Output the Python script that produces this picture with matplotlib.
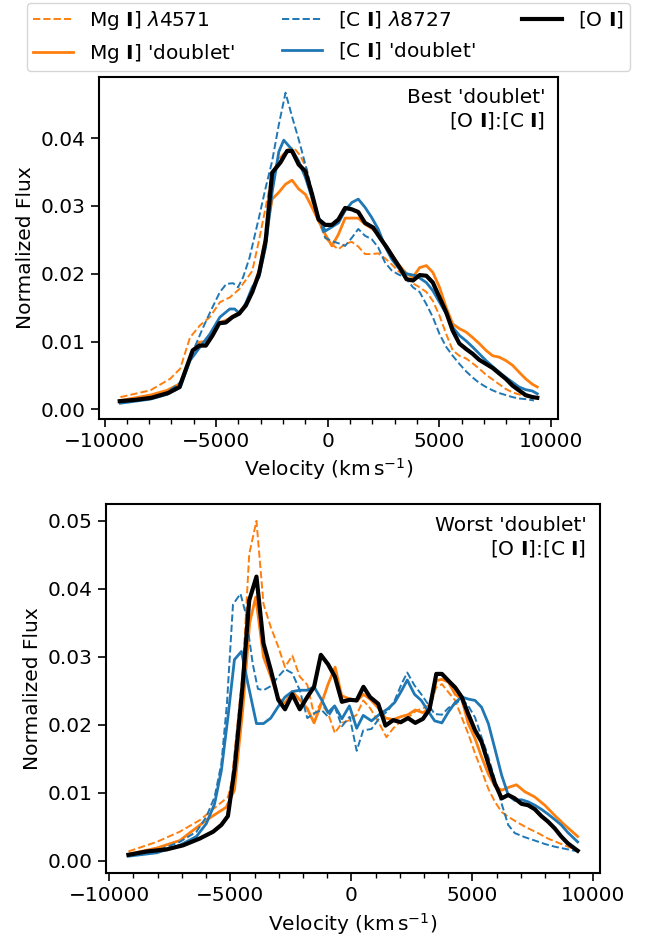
import numpy as np
import matplotlib
matplotlib.use("Agg")
import matplotlib.pyplot as plt
from matplotlib.ticker import MultipleLocator

# (velocity km/s, normalized flux)

# top panel: best 'doublet'
top_mg_4571 = [(-9290, 0.0018), (-7950, 0.0028), (-7060, 0.0045), (-6610, 0.0060), (-6170, 0.0106),
               (-5720, 0.0124), (-5280, 0.0136), (-4830, 0.0158), (-4390, 0.0165), (-3970, 0.0177),
               (-3380, 0.0204), (-3080, 0.0249), (-2780, 0.0298), (-2490, 0.0347), (-2190, 0.0369),
               (-1820, 0.0383), (-1520, 0.0386), (-1230, 0.0374), (-930, 0.0354), (-705, 0.0307),
               (-410, 0.0278), (-110, 0.0253), (190, 0.0243), (480, 0.0236), (780, 0.0244),
               (1080, 0.0247), (1370, 0.0240), (1670, 0.0229), (1970, 0.0229), (2260, 0.0230),
               (2560, 0.0223), (2860, 0.0214), (3160, 0.0204), (3530, 0.0195), (3750, 0.0187),
               (4120, 0.0180), (4420, 0.0173), (4710, 0.0160), (5010, 0.0138), (5310, 0.0111),
               (5600, 0.0087), (5900, 0.0079), (6200, 0.0075), (6490, 0.0068), (6790, 0.0060),
               (7090, 0.0051), (7390, 0.0044), (7680, 0.0037), (7980, 0.0030), (8280, 0.0025),
               (8570, 0.0022), (8870, 0.0019), (9320, 0.0017)]
top_mg_dbl = [(-9290, 0.0013), (-7950, 0.0021), (-7200, 0.0028), (-6610, 0.0038), (-6050, 0.0085),
              (-5750, 0.0099), (-5460, 0.0100), (-5160, 0.0113), (-4860, 0.0128), (-4570, 0.0131),
              (-4270, 0.0137), (-3970, 0.0143), (-3670, 0.0155), (-3380, 0.0175), (-3080, 0.0205),
              (-2780, 0.0255), (-2490, 0.0310), (-2190, 0.0320), (-1890, 0.0332), (-1600, 0.0338),
              (-1300, 0.0325), (-1000, 0.0317), (-705, 0.0298), (-410, 0.0278), (-110, 0.0258),
              (190, 0.0241), (480, 0.0258), (780, 0.0282), (1080, 0.0282), (1370, 0.0282),
              (1670, 0.0273), (1970, 0.0267), (2260, 0.0258), (2560, 0.0244), (2860, 0.0229),
              (3160, 0.0214), (3530, 0.0200), (3820, 0.0195), (4120, 0.0209), (4420, 0.0212),
              (4710, 0.0202), (5010, 0.0180), (5310, 0.0150), (5600, 0.0126), (5900, 0.0119),
              (6200, 0.0114), (6490, 0.0106), (6790, 0.0097), (7090, 0.0087), (7390, 0.0079),
              (7680, 0.0077), (7980, 0.0072), (8280, 0.0065), (8570, 0.0055), (8870, 0.0045),
              (9170, 0.0037), (9390, 0.0033)]
top_ci_8727 = [(-9290, 0.0011), (-7950, 0.0017), (-7200, 0.0025), (-6600, 0.0040), (-6020, 0.0087),
               (-5580, 0.0121), (-5200, 0.0148), (-4830, 0.0173), (-4540, 0.0185), (-4240, 0.0186),
               (-4020, 0.0180), (-3790, 0.0195), (-3500, 0.0224), (-3080, 0.0283), (-2780, 0.0327),
               (-2490, 0.0366), (-2190, 0.0420), (-1890, 0.0467), (-1600, 0.0432), (-1300, 0.0398),
               (-1000, 0.0361), (-705, 0.0322), (-410, 0.0283), (-110, 0.0253), (190, 0.0248),
               (480, 0.0245), (780, 0.0241), (1080, 0.0253), (1370, 0.0266), (1670, 0.0256),
               (1970, 0.0251), (2260, 0.0239), (2560, 0.0217), (2860, 0.0205), (3160, 0.0199),
               (3450, 0.0195), (3820, 0.0180), (4120, 0.0173), (4420, 0.0155), (4710, 0.0136),
               (5010, 0.0111), (5310, 0.0092), (5600, 0.0079), (5900, 0.0067), (6200, 0.0056),
               (6490, 0.0047), (6790, 0.0039), (7090, 0.0033), (7390, 0.0028), (7680, 0.0024),
               (7980, 0.0021), (8280, 0.0018), (8570, 0.0016), (8870, 0.0015), (9240, 0.0013)]
top_ci_dbl = [(-9290, 0.0009), (-7950, 0.0015), (-7200, 0.0022), (-6610, 0.0032), (-6170, 0.0072),
              (-5720, 0.0092), (-5280, 0.0111), (-4830, 0.0136), (-4390, 0.0148), (-4170, 0.0148),
              (-3940, 0.0141), (-3650, 0.0158), (-3380, 0.0180), (-3080, 0.0195), (-2780, 0.0240),
              (-2490, 0.0320), (-2190, 0.0380), (-1970, 0.0397), (-1600, 0.0383), (-1300, 0.0366),
              (-1000, 0.0342), (-705, 0.0312), (-410, 0.0283), (-110, 0.0263), (190, 0.0269),
              (480, 0.0275), (780, 0.0293), (1080, 0.0305), (1370, 0.0310), (1670, 0.0298),
              (1970, 0.0283), (2260, 0.0266), (2560, 0.0241), (2860, 0.0222), (3160, 0.0209),
              (3530, 0.0200), (3970, 0.0197), (4420, 0.0187), (4710, 0.0175), (5010, 0.0158),
              (5310, 0.0141), (5600, 0.0121), (5900, 0.0109), (6200, 0.0101), (6490, 0.0092),
              (6790, 0.0082), (7090, 0.0072), (7390, 0.0063), (7680, 0.0055), (7980, 0.0047),
              (8280, 0.0040), (8570, 0.0033), (8870, 0.0029), (9170, 0.0027), (9390, 0.0023)]
top_oi = [(-9320, 0.0012), (-8600, 0.0014), (-7900, 0.0017), (-7160, 0.0024), (-6640, 0.0033),
          (-6050, 0.0087), (-5750, 0.0094), (-5460, 0.0094), (-5160, 0.0109), (-4860, 0.0127),
          (-4570, 0.0128), (-4270, 0.0136), (-3970, 0.0141), (-3670, 0.0153), (-3380, 0.0173),
          (-3080, 0.0200), (-2780, 0.0249), (-2490, 0.0349), (-2120, 0.0364), (-1820, 0.0381),
          (-1600, 0.0381), (-1300, 0.0361), (-1000, 0.0351), (-700, 0.0317), (-410, 0.0280),
          (-110, 0.0272), (190, 0.0272), (480, 0.0280), (780, 0.0297), (1080, 0.0295),
          (1370, 0.0291), (1670, 0.0275), (2040, 0.0268), (2340, 0.0253), (2640, 0.0239),
          (2930, 0.0224), (3230, 0.0209), (3530, 0.0192), (3820, 0.0190), (4120, 0.0198),
          (4420, 0.0197), (4710, 0.0187), (5010, 0.0165), (5310, 0.0143), (5600, 0.0116),
          (5900, 0.0097), (6200, 0.0089), (6490, 0.0082), (6790, 0.0073), (7090, 0.0067),
          (7390, 0.0061), (7680, 0.0053), (7980, 0.0045), (8280, 0.0035), (8570, 0.0028),
          (8870, 0.0021), (9170, 0.0018), (9390, 0.0017)]

# bottom panel: worst 'doublet'
bot_mg_4571 = [(-9210, 0.0014), (-8040, 0.0028), (-7090, 0.0043), (-6260, 0.0060), (-5580, 0.0080),
               (-5100, 0.0094), (-4950, 0.0115), (-4480, 0.0280), (-4220, 0.0451), (-3920, 0.0500),
               (-3630, 0.0378), (-3330, 0.0344), (-3020, 0.0315), (-2740, 0.0285), (-2440, 0.0302),
               (-2130, 0.0271), (-1820, 0.0259), (-1540, 0.0215), (-1260, 0.0232), (-960, 0.0217),
               (-680, 0.0188), (-390, 0.0203), (-70, 0.0207), (220, 0.0215), (490, 0.0236),
               (770, 0.0225), (1110, 0.0205), (1450, 0.0182), (1730, 0.0195), (2070, 0.0206),
               (2380, 0.0212), (2680, 0.0221), (3000, 0.0225), (3300, 0.0231), (3500, 0.0255),
               (3740, 0.0260), (4010, 0.0248), (4290, 0.0236), (4560, 0.0211), (4830, 0.0187),
               (5110, 0.0158), (5380, 0.0133), (5660, 0.0106), (5930, 0.0087), (6210, 0.0072),
               (6480, 0.0065), (6890, 0.0056), (7300, 0.0048), (7710, 0.0041), (8120, 0.0033),
               (8530, 0.0027), (8940, 0.0021), (9350, 0.0016)]
bot_mg_dbl = [(-9210, 0.0010), (-8040, 0.0019), (-7090, 0.0030), (-5990, 0.0060), (-5170, 0.0079),
              (-4830, 0.0104), (-4480, 0.0225), (-4200, 0.0350), (-3950, 0.0388), (-3630, 0.0300),
              (-3330, 0.0271), (-3020, 0.0239), (-2740, 0.0232), (-2440, 0.0249), (-2130, 0.0237),
              (-1820, 0.0224), (-1540, 0.0203), (-1230, 0.0232), (-960, 0.0260), (-670, 0.0285),
              (-400, 0.0243), (-60, 0.0238), (220, 0.0235), (500, 0.0245), (770, 0.0238),
              (1110, 0.0225), (1410, 0.0210), (1730, 0.0208), (2040, 0.0212), (2340, 0.0215),
              (2640, 0.0222), (2960, 0.0218), (3230, 0.0225), (3510, 0.0265), (3740, 0.0267),
              (4010, 0.0263), (4290, 0.0245), (4560, 0.0238), (4830, 0.0202), (5110, 0.0180),
              (5380, 0.0153), (5660, 0.0128), (5930, 0.0110), (6210, 0.0104), (6480, 0.0108),
              (6820, 0.0112), (7160, 0.0102), (7580, 0.0094), (7990, 0.0082), (8400, 0.0067),
              (8810, 0.0053), (9350, 0.0036)]
bot_ci_8727 = [(-9210, 0.0010), (-8040, 0.0015), (-7090, 0.0028), (-6400, 0.0043), (-5990, 0.0065),
               (-5650, 0.0094), (-5370, 0.0143), (-5140, 0.0231), (-4890, 0.0377), (-4580, 0.0393),
               (-4360, 0.0363), (-4070, 0.0289), (-3860, 0.0253), (-3630, 0.0251), (-3330, 0.0257),
               (-3020, 0.0271), (-2740, 0.0282), (-2440, 0.0276), (-2130, 0.0251), (-1820, 0.0210),
               (-1540, 0.0217), (-1230, 0.0222), (-960, 0.0212), (-690, 0.0227), (-390, 0.0198),
               (-70, 0.0212), (220, 0.0162), (490, 0.0192), (830, 0.0194), (1180, 0.0211),
               (1520, 0.0221), (1790, 0.0236), (2070, 0.0260), (2310, 0.0277), (2610, 0.0258),
               (2890, 0.0245), (3160, 0.0231), (3440, 0.0216), (3740, 0.0215), (4010, 0.0225),
               (4290, 0.0231), (4560, 0.0238), (4830, 0.0228), (5110, 0.0211), (5380, 0.0182),
               (5660, 0.0153), (5930, 0.0119), (6210, 0.0084), (6480, 0.0053), (6750, 0.0041),
               (7160, 0.0035), (7580, 0.0030), (7990, 0.0025), (8400, 0.0021), (8810, 0.0018),
               (9350, 0.0014)]
bot_ci_dbl = [(-9210, 0.0007), (-8040, 0.0012), (-7090, 0.0023), (-6400, 0.0036), (-5990, 0.0055),
              (-5650, 0.0084), (-5370, 0.0133), (-5100, 0.0211), (-4830, 0.0296), (-4540, 0.0308),
              (-4280, 0.0262), (-3920, 0.0202), (-3630, 0.0202), (-3330, 0.0210), (-3020, 0.0227),
              (-2740, 0.0241), (-2440, 0.0249), (-2130, 0.0251), (-1820, 0.0251), (-1540, 0.0256),
              (-1230, 0.0237), (-960, 0.0218), (-690, 0.0228), (-390, 0.0209), (-80, 0.0228),
              (220, 0.0195), (490, 0.0214), (830, 0.0206), (1180, 0.0216), (1520, 0.0224),
              (1790, 0.0233), (2070, 0.0250), (2310, 0.0266), (2610, 0.0245), (2890, 0.0236),
              (3160, 0.0221), (3440, 0.0206), (3740, 0.0203), (4010, 0.0219), (4290, 0.0233),
              (4560, 0.0241), (4830, 0.0238), (5110, 0.0236), (5380, 0.0226), (5660, 0.0202),
              (5930, 0.0165), (6210, 0.0126), (6480, 0.0097), (6750, 0.0089), (7030, 0.0090),
              (7300, 0.0087), (7580, 0.0082), (7850, 0.0076), (8120, 0.0069), (8400, 0.0061),
              (8670, 0.0053), (8940, 0.0042), (9350, 0.0028)]
bot_oi = [(-9210, 0.0009), (-8450, 0.0014), (-7630, 0.0017), (-6950, 0.0023), (-6260, 0.0033),
          (-5710, 0.0043), (-5370, 0.0053), (-5100, 0.0066), (-4830, 0.0134), (-4500, 0.0255),
          (-4220, 0.0383), (-3920, 0.0418), (-3630, 0.0320), (-3330, 0.0281), (-3020, 0.0237),
          (-2740, 0.0223), (-2440, 0.0245), (-2130, 0.0223), (-1820, 0.0241), (-1540, 0.0256),
          (-1260, 0.0303), (-960, 0.0289), (-680, 0.0271), (-390, 0.0234), (-60, 0.0237),
          (220, 0.0236), (500, 0.0256), (770, 0.0241), (1110, 0.0231), (1410, 0.0199),
          (1730, 0.0207), (2040, 0.0204), (2340, 0.0210), (2640, 0.0203), (2960, 0.0209),
          (3230, 0.0223), (3510, 0.0275), (3740, 0.0275), (4010, 0.0265), (4290, 0.0255),
          (4560, 0.0241), (4830, 0.0216), (5110, 0.0192), (5380, 0.0175), (5660, 0.0143),
          (5930, 0.0114), (6210, 0.0092), (6480, 0.0097), (6750, 0.0092), (7030, 0.0084),
          (7300, 0.0082), (7580, 0.0076), (7850, 0.0066), (8120, 0.0058), (8400, 0.0048),
          (8670, 0.0036), (8940, 0.0026), (9350, 0.0015)]

labels = [r"Mg $\mathbf{I}$] $\lambda$4571", r"Mg $\mathbf{I}$] 'doublet'",
          r"[C $\mathbf{I}$] $\lambda$8727", r"[C $\mathbf{I}$] 'doublet'", r"[O $\mathbf{I}$]"]
panel_titles = [r"Best 'doublet'" "\n" r"[O $\mathbf{I}$]:[C $\mathbf{I}$]",
                r"Worst 'doublet'" "\n" r"[O $\mathbf{I}$]:[C $\mathbf{I}$]"]

orange = "#ff7f0e"
blue = "#1f77b4"
styles = [dict(color=orange, ls="--", lw=1.4),
          dict(color=orange, ls="-", lw=2.0),
          dict(color=blue, ls="--", lw=1.4),
          dict(color=blue, ls="-", lw=2.0),
          dict(color="black", ls="-", lw=3.0)]

fig = plt.figure(figsize=(6.46, 9.41), dpi=100)
ax1 = fig.add_axes([0.153, 0.555, 0.711, 0.363])
ax2 = fig.add_axes([0.164, 0.0723, 0.765, 0.392])

panels = [(ax1, [top_mg_4571, top_mg_dbl, top_ci_8727, top_ci_dbl, top_oi]),
          (ax2, [bot_mg_4571, bot_mg_dbl, bot_ci_8727, bot_ci_dbl, bot_oi])]

handles = []
for i, (ax, series) in enumerate(panels):
    hs = []
    for s, st, lab in zip(series, styles, labels):
        arr = np.array(s)
        h, = ax.plot(arr[:, 0], arr[:, 1], label=lab, **st)
        hs.append(h)
    if i == 0:
        handles = hs
    ax.set_xlabel(r"Velocity (km$\,$s$^{-1}$)", fontsize=14.5)
    ax.set_ylabel("Normalized Flux", fontsize=14.5)
    ax.xaxis.set_major_locator(MultipleLocator(5000))
    ax.xaxis.set_minor_locator(MultipleLocator(1000))
    ax.yaxis.set_major_locator(MultipleLocator(0.01))
    ax.tick_params(which="major", length=6, width=1.2, labelsize=14.5)
    ax.tick_params(which="minor", length=3.5, width=1.0)
    for sp in ax.spines.values():
        sp.set_linewidth(1.5)
    ax.text(0.972, 0.968, panel_titles[i], transform=ax.transAxes,
            ha="right", va="top", fontsize=14.5)

fig.legend(handles, labels, loc="lower left",
           bbox_to_anchor=(27 / 646, 1 - 71 / 941, 603 / 646, 67 / 941),
           mode="expand", ncol=3, fontsize=14.5, borderaxespad=0, borderpad=0.3)

fig.savefig("out.png", dpi=100)
